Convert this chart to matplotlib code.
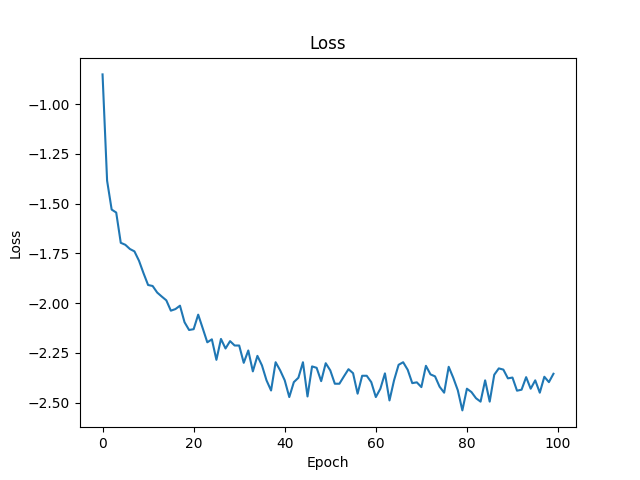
import matplotlib
matplotlib.use("Agg")
import matplotlib.pyplot as plt

epochs = list(range(100))
loss = [
    -0.851, -1.385, -1.530, -1.545, -1.697, -1.707, -1.728, -1.740, -1.787, -1.850,
    -1.909, -1.914, -1.947, -1.967, -1.986, -2.038, -2.030, -2.013, -2.096, -2.135,
    -2.131, -2.058, -2.127, -2.197, -2.182, -2.285, -2.180, -2.228, -2.191, -2.213,
    -2.213, -2.300, -2.238, -2.343, -2.265, -2.313, -2.388, -2.439, -2.297, -2.338,
    -2.388, -2.472, -2.397, -2.375, -2.297, -2.469, -2.318, -2.325, -2.392, -2.302,
    -2.338, -2.405, -2.405, -2.368, -2.332, -2.352, -2.455, -2.365, -2.365, -2.397,
    -2.472, -2.430, -2.353, -2.489, -2.388, -2.310, -2.297, -2.335, -2.402, -2.398,
    -2.422, -2.315, -2.358, -2.368, -2.420, -2.450, -2.320, -2.375, -2.438, -2.539,
    -2.430, -2.447, -2.478, -2.495, -2.388, -2.495, -2.360, -2.328, -2.334, -2.378,
    -2.374, -2.440, -2.435, -2.372, -2.430, -2.388, -2.450, -2.370, -2.397, -2.355,
]

fig, ax = plt.subplots(figsize=(6.4, 4.8), dpi=100)
ax.plot(epochs, loss)
ax.set_title("Loss")
ax.set_xlabel("Epoch")
ax.set_ylabel("Loss")
fig.savefig("out.png")
